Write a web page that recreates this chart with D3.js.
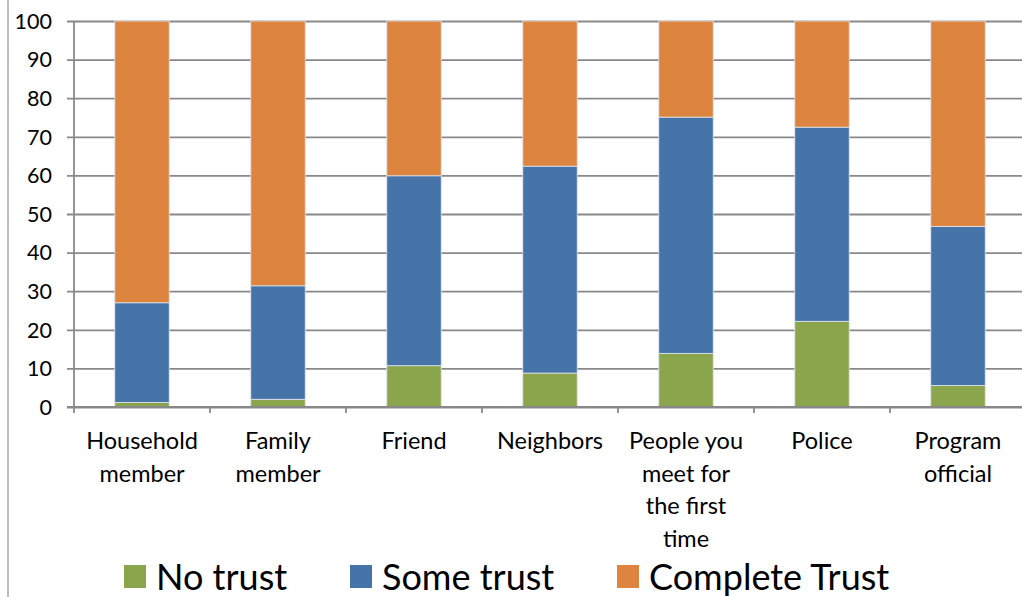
<!DOCTYPE html>
<html>
<head>
<meta charset="utf-8">
<script src="https://cdn.jsdelivr.net/npm/d3@7"></script>
<style>
  html, body { margin: 0; padding: 0; background: #fff; }
  svg { display: block; font-family: Lato, "Liberation Sans", sans-serif; }
</style>
</head>
<body>
<svg id="chart" width="1022" height="597"></svg>
<script>
// Trust levels by type of person (percent of respondents)
const categories = [
  ["Household", "member"],
  ["Family", "member"],
  ["Friend"],
  ["Neighbors"],
  ["People you", "meet for", "the first", "time"],
  ["Police"],
  ["Program", "official"]
];
const seriesNames = ["No trust", "Some trust", "Complete Trust"];
const noTrust       = [1.2, 2.0, 10.7, 8.8, 13.9, 22.2, 5.6];
const someTrust     = [25.8, 29.4, 49.2, 53.6, 61.2, 50.3, 41.2];
const completeTrust = [73.0, 68.6, 40.1, 37.6, 24.9, 27.5, 53.2];
const yTicks = [0, 10, 20, 30, 40, 50, 60, 70, 80, 90, 100];
const colors = ["#8aa54c", "#4673a8", "#dd843f"];

const keys = categories.map(c => c.join(" "));
const rows = keys.map((k, i) => ({
  key: k,
  "No trust": noTrust[i],
  "Some trust": someTrust[i],
  "Complete Trust": completeTrust[i]
}));

const svg = d3.select("#chart");
const plotL = 74, plotR = 1026, plotT = 21, plotB = 407;

const x = d3.scaleBand().domain(keys).range([plotL, plotR]).paddingInner(0.6).paddingOuter(0.3);
const xFull = d3.scaleBand().domain(keys).range([plotL, plotR]);
const y = d3.scaleLinear().domain([0, 100]).range([plotB, plotT]);
const color = d3.scaleOrdinal().domain(seriesNames).range(colors);

// outer frame edge
svg.append("line").attr("x1", 8).attr("x2", 8).attr("y1", 0).attr("y2", 597)
  .attr("stroke", "#a6a6a6").attr("stroke-width", 1.5);

// horizontal gridlines with ticks
const gy = svg.append("g")
  .attr("transform", `translate(${plotL},0)`)
  .call(d3.axisLeft(y).tickValues(yTicks).tickSize(-(plotR - plotL)).tickSizeOuter(0).tickPadding(0));
gy.select(".domain").remove();
gy.selectAll(".tick line").attr("stroke", "#898989").attr("stroke-width", 1.8).attr("x1", -7);
gy.selectAll(".tick text").remove();

// y labels
svg.append("g").selectAll("text").data(yTicks).join("text")
  .attr("x", 52).attr("y", d => y(d)).attr("dy", "0.36em")
  .attr("text-anchor", "end").attr("font-size", 21.5).attr("fill", "#000")
  .text(d => d);

// stacked bars
const stack = d3.stack().keys(seriesNames)(rows);
svg.append("g").selectAll("g").data(stack).join("g")
  .attr("fill", d => color(d.key))
  .selectAll("rect").data(d => d).join("rect")
  .attr("x", d => x(d.data.key))
  .attr("width", x.bandwidth())
  .attr("y", d => y(d[1]))
  .attr("height", d => y(d[0]) - y(d[1]))
  .attr("stroke", "#dfe5ee").attr("stroke-width", 0.8);

// y axis line
svg.append("line").attr("x1", plotL).attr("x2", plotL).attr("y1", plotT).attr("y2", plotB + 6)
  .attr("stroke", "#898989").attr("stroke-width", 1.8);

// x axis line with ticks at category boundaries
const gx = svg.append("g").attr("transform", `translate(0,${plotB})`);
gx.append("line").attr("x1", plotL - 7).attr("x2", 1022).attr("stroke", "#898989").attr("stroke-width", 1.8);
gx.selectAll("line.tk").data(keys).join("line")
  .attr("class", "tk")
  .attr("x1", d => xFull(d) + xFull.bandwidth())
  .attr("x2", d => xFull(d) + xFull.bandwidth())
  .attr("y1", 0).attr("y2", 6)
  .attr("stroke", "#898989").attr("stroke-width", 1.8);

// category labels
const lbl = svg.append("g").selectAll("text").data(categories).join("text")
  .attr("x", (d, i) => xFull(keys[i]) + xFull.bandwidth() / 2)
  .attr("y", 441)
  .attr("text-anchor", "middle").attr("font-size", 23.5).attr("fill", "#000");
lbl.selectAll("tspan").data(d => d).join("tspan")
  .attr("x", function () { return this.parentNode.getAttribute("x"); })
  .attr("dy", (d, i) => i === 0 ? "0.36em" : 32.5)
  .text(d => d);

// legend
const legendX = [124, 350, 617];
const lg = svg.append("g").selectAll("g").data(seriesNames).join("g")
  .attr("transform", (d, i) => `translate(${legendX[i]},565)`);
lg.append("rect").attr("width", 22).attr("height", 23).attr("fill", d => color(d));
lg.append("text").attr("x", 32).attr("y", 12).attr("dy", "0.36em")
  .attr("font-size", 36).attr("fill", "#000").text(d => d);
</script>
</body>
</html>
